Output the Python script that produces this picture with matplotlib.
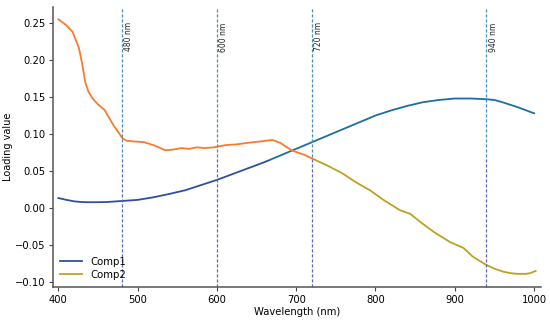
import matplotlib
matplotlib.use("Agg")
import matplotlib.pyplot as plt
from matplotlib.patches import Rectangle

# loadings
wl1 = [400, 410, 420, 430, 440, 460, 480, 500, 520, 540, 560, 580, 600, 620,
       640, 660, 680, 700, 720, 740, 760, 780, 800, 820, 840, 860, 880, 900,
       920, 940, 950, 960, 980, 1000]
comp1 = [0.0135, 0.011, 0.009, 0.008, 0.0078, 0.008, 0.0095, 0.011, 0.0145,
         0.019, 0.024, 0.031, 0.038, 0.046, 0.054, 0.062, 0.071, 0.080, 0.089,
         0.098, 0.107, 0.116, 0.125, 0.132, 0.138, 0.143, 0.146, 0.148, 0.148,
         0.147, 0.146, 0.143, 0.136, 0.128]

wl2 = [400, 410, 418, 426, 430, 434, 438, 444, 450, 458, 464, 470, 476, 481,
       486, 495, 508, 520, 535, 545, 555, 565, 575, 585, 596, 611, 625, 638,
       655, 670, 680, 694, 710, 724, 740, 758, 775, 793, 810, 831, 844, 858,
       873, 894, 911, 923, 940, 950, 961, 970, 979, 990, 995, 1002]
comp2 = [0.255, 0.247, 0.238, 0.216, 0.195, 0.170, 0.157, 0.147, 0.140, 0.133,
         0.122, 0.111, 0.102, 0.094, 0.091, 0.090, 0.089, 0.085, 0.078, 0.079,
         0.081, 0.080, 0.082, 0.081, 0.082, 0.085, 0.086, 0.088, 0.090, 0.092,
         0.088, 0.078, 0.072, 0.065, 0.057, 0.047, 0.035, 0.024, 0.011, -0.003,
         -0.008, -0.020, -0.032, -0.046, -0.054, -0.066, -0.077, -0.082,
         -0.086, -0.088, -0.089, -0.089, -0.088, -0.085]

marks = [480, 600, 720, 940]
mark_labels = ["480 nm", "600 nm", "720 nm", "940 nm"]

# the reference shifts hue between its upper and lower halves
top_cols = {"c1": "#1c6e9e", "c2": "#fb7a2c", "v": "#4d8dbb"}
bot_cols = {"c1": "#2f4f9f", "c2": "#c0a021", "v": "#5a6cb0"}

fig = plt.figure(figsize=(5.5, 3.2), dpi=100)
ax = fig.add_axes([0.096, 0.103, 0.888, 0.875])

for cols, rect in [(top_cols, (0, 0.5, 1, 0.5)), (bot_cols, (0, 0, 1, 0.5))]:
    clip = Rectangle(rect[:2], rect[2], rect[3], transform=fig.transFigure)
    arts = []
    arts += ax.plot(wl1, comp1, color=cols["c1"], lw=1.3)
    arts += ax.plot(wl2, comp2, color=cols["c2"], lw=1.3)
    for m in marks:
        arts.append(ax.axvline(m, color=cols["v"], lw=0.9, ls=(0, (2.5, 1.5))))
    for a in arts:
        a.set_clip_path(clip)

for m, lab in zip(marks, mark_labels):
    ax.text(m + 3, 0.251, lab, rotation=90, va="top", ha="left",
            fontsize=5.5, color="#222222")

ax.plot([], [], color=bot_cols["c1"], lw=1.3, label="Comp1")
ax.plot([], [], color=bot_cols["c2"], lw=1.3, label="Comp2")
ax.legend(loc="lower left", frameon=False, fontsize=7.3, handlelength=2.2,
          borderaxespad=0.3, labelspacing=0.3)

ax.set_xlim(393, 1009)
ax.set_ylim(-0.1068, 0.2716)
ax.set_xticks([400, 500, 600, 700, 800, 900, 1000])
ax.set_yticks([-0.10, -0.05, 0.0, 0.05, 0.10, 0.15, 0.20, 0.25])
ax.tick_params(labelsize=7.2, length=3, pad=2.5, color="#444444")
ax.set_xlabel("Wavelength (nm)", fontsize=7.2, labelpad=2)
ax.set_ylabel("Loading value", fontsize=7.0, labelpad=1)
for s in ["top", "right"]:
    ax.spines[s].set_visible(False)
for s in ["left", "bottom"]:
    ax.spines[s].set_color("#555555")
    ax.spines[s].set_linewidth(1.1)

fig.savefig("out.png", dpi=100)
